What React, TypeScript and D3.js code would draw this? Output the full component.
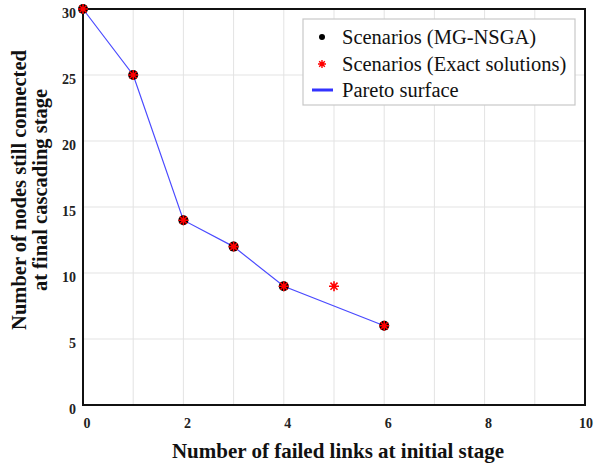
import React, { useEffect, useRef } from "react";
import * as d3 from "d3";

const mgX = [0, 1, 2, 3, 4, 6];
const mgY = [30, 25, 14, 12, 9, 6];
const exactX = [0, 1, 2, 3, 4, 5, 6];
const exactY = [30, 25, 14, 12, 9, 9, 6];
const xTicks = [0, 2, 4, 6, 8, 10];
const yTicks = [0, 5, 10, 15, 20, 25, 30];
const legendLabels = ["Scenarios (MG-NSGA)", "Scenarios (Exact solutions)", "Pareto surface"];

const W = 594;
const H = 466;
const margin = { top: 9, right: 9, bottom: 61, left: 83 };
const serif = "Liberation Serif, DejaVu Serif, serif";

const starPath = (r: number) => {
  let p = "";
  for (let k = 0; k < 4; k++) {
    const a = (k * Math.PI) / 4;
    const dx = r * Math.cos(a);
    const dy = r * Math.sin(a);
    p += `M${-dx},${-dy}L${dx},${dy}`;
  }
  return p;
};

const App = () => {
  const ref = useRef<SVGSVGElement>(null);

  useEffect(() => {
    const svg = d3.select(ref.current);
    svg.selectAll("*").remove();

    const iw = W - margin.left - margin.right;
    const ih = H - margin.top - margin.bottom;
    const x = d3.scaleLinear().domain([0, 10]).range([0, iw]);
    const y = d3.scaleLinear().domain([0, 30]).range([ih, 0]);

    const g = svg.append("g").attr("transform", `translate(${margin.left},${margin.top})`);

    // grid
    g.selectAll(".gx")
      .data(d3.range(1, 10))
      .enter()
      .append("line")
      .attr("x1", (d) => x(d))
      .attr("x2", (d) => x(d))
      .attr("y1", 0)
      .attr("y2", ih)
      .attr("stroke", "#e3e3e3")
      .attr("stroke-width", 1);
    g.selectAll(".gy")
      .data([5, 10, 15, 20, 25])
      .enter()
      .append("line")
      .attr("x1", 0)
      .attr("x2", iw)
      .attr("y1", (d) => y(d))
      .attr("y2", (d) => y(d))
      .attr("stroke", "#e3e3e3")
      .attr("stroke-width", 1);

    // frame
    g.append("rect")
      .attr("width", iw)
      .attr("height", ih)
      .attr("fill", "none")
      .attr("stroke", "#111")
      .attr("stroke-width", 2);

    // tick labels
    g.selectAll(".xt")
      .data(xTicks)
      .enter()
      .append("text")
      .attr("x", (d) => (d === 10 ? W - margin.left - 1 : x(d) + 4))
      .attr("y", ih + 23)
      .attr("text-anchor", (d) => (d === 10 ? "end" : "middle"))
      .attr("font-family", serif)
      .attr("font-weight", "bold")
      .attr("font-size", 14)
      .attr("fill", "#222")
      .text((d) => d);
    g.selectAll(".yt")
      .data(yTicks)
      .enter()
      .append("text")
      .attr("x", -7)
      .attr("y", (d) => y(d) + 9)
      .attr("text-anchor", "end")
      .attr("font-family", serif)
      .attr("font-weight", "bold")
      .attr("font-size", 14)
      .attr("fill", "#222")
      .text((d) => d);

    // axis titles
    svg
      .append("text")
      .attr("x", 338)
      .attr("y", 458)
      .attr("text-anchor", "middle")
      .attr("font-family", serif)
      .attr("font-weight", "bold")
      .attr("font-size", 21)
      .attr("fill", "#111")
      .text("Number of failed links at initial stage");
    const yt = svg
      .append("text")
      .attr("transform", "translate(0,190) rotate(-90)")
      .attr("text-anchor", "middle")
      .attr("font-family", serif)
      .attr("font-weight", "bold")
      .attr("font-size", 20.5)
      .attr("fill", "#111");
    yt.append("tspan").attr("x", 0).attr("y", 26).text("Number of nodes still connected");
    yt.append("tspan").attr("x", 0).attr("y", 47).text("at final cascading stage");

    // pareto line
    const line = d3
      .line<number>()
      .x((d, i) => x(mgX[i]))
      .y((d) => y(d));
    g.append("path")
      .datum(mgY)
      .attr("d", line)
      .attr("fill", "none")
      .attr("stroke", "#4a4aff")
      .attr("stroke-width", 1.2);

    // MG-NSGA dots
    g.selectAll(".mg")
      .data(mgY)
      .enter()
      .append("circle")
      .attr("cx", (d, i) => x(mgX[i]))
      .attr("cy", (d) => y(d))
      .attr("r", 5)
      .attr("fill", "#000");

    // exact stars
    g.selectAll(".ex")
      .data(exactY)
      .enter()
      .append("path")
      .attr("transform", (d, i) => `translate(${x(exactX[i])},${y(d)})`)
      .attr("d", starPath(5))
      .attr("stroke", "#ff0000")
      .attr("stroke-width", 1.6)
      .attr("fill", "none");

    // legend
    const lg = svg.append("g").attr("transform", "translate(303,19)");
    lg.append("rect")
      .attr("width", 272)
      .attr("height", 86)
      .attr("fill", "#fff")
      .attr("stroke", "#c8c8c8")
      .attr("stroke-width", 1.2);
    const rows = [18, 45, 71];
    lg.append("circle").attr("cx", 19).attr("cy", rows[0]).attr("r", 3).attr("fill", "#000");
    lg.append("path")
      .attr("transform", `translate(19,${rows[1]})`)
      .attr("d", starPath(4))
      .attr("stroke", "#ff0000")
      .attr("stroke-width", 1.4);
    lg.append("line")
      .attr("x1", 9)
      .attr("x2", 30)
      .attr("y1", rows[2])
      .attr("y2", rows[2])
      .attr("stroke", "#3333ff")
      .attr("stroke-width", 3);
    lg.selectAll(".lt")
      .data(legendLabels)
      .enter()
      .append("text")
      .attr("x", 39)
      .attr("y", (d, i) => rows[i] + 7)
      .attr("font-family", serif)
      .attr("font-size", 20.5)
      .attr("fill", "#111")
      .text((d) => d);
  }, []);

  return (
    <svg
      ref={ref}
      width={W}
      height={H}
      style={{ position: "absolute", left: 0, top: 0, background: "#fff" }}
    />
  );
};

export default App;
